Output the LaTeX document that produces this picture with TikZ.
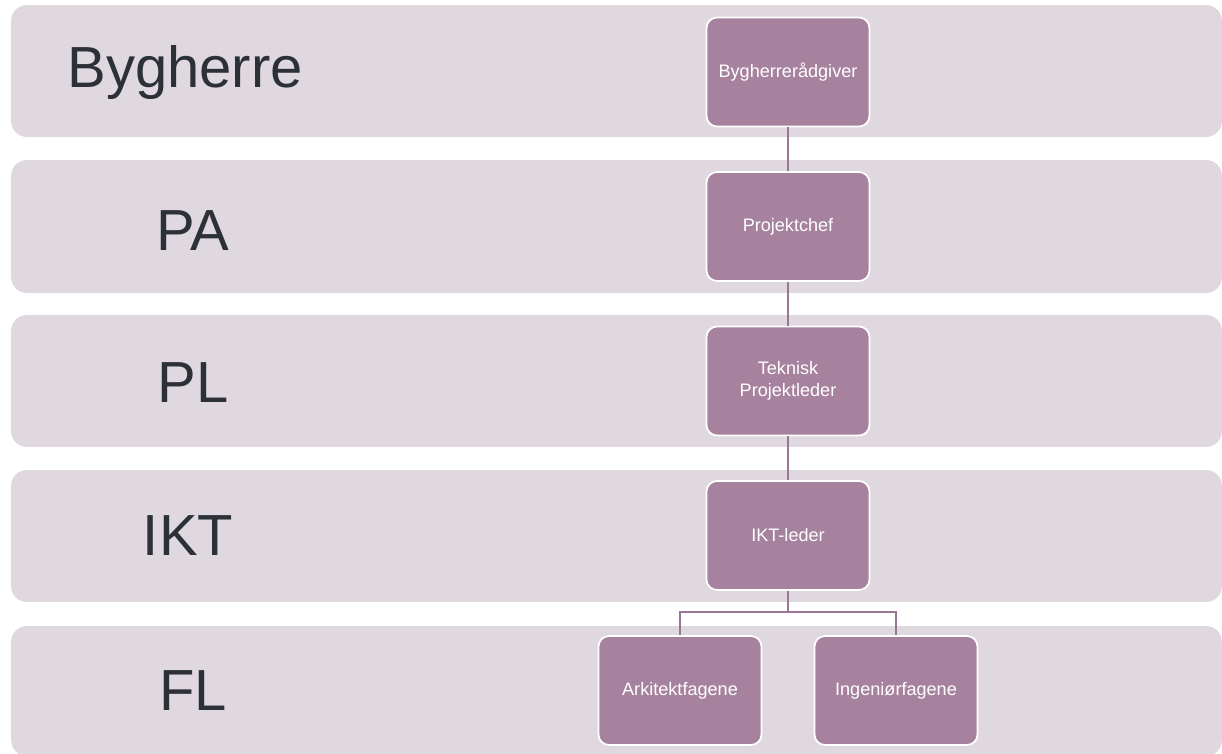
\documentclass[tikz,border=0pt]{standalone}
\usepackage{fontspec}
\setmainfont{Liberation Sans}
\usepackage{xcolor}
\usepackage{tikz}

\definecolor{bandfill}{HTML}{DFD8DF}
\definecolor{boxfill}{HTML}{A6829F}
\definecolor{linkcol}{HTML}{9A7895}
\definecolor{labeltext}{HTML}{2B3137}

\begin{document}
\begin{tikzpicture}[x=0.02cm, y=-0.02cm,
    band/.style={rectangle, rounded corners=9pt, fill=bandfill, minimum width=24.22cm, inner sep=0pt},
    lvl/.style={text=labeltext, font=\fontsize{33}{38}\selectfont},
    role/.style={draw=white, line width=1pt, rectangle, rounded corners=6pt, fill=boxfill, minimum width=3.26cm, minimum height=2.18cm, text=white, align=center, font=\fontsize{10.3}{12.5}\selectfont},
    link/.style={draw=linkcol, line width=1.1pt}]
        \useasboundingbox (0,0) rectangle (1222,753);

        % levels
        \node[band, minimum height=2.64cm] (band1) at (616.5,71) {};
        \node[band, minimum height=2.66cm] (band2) at (616.5,226.5) {};
        \node[band, minimum height=2.64cm] (band3) at (616.5,381) {};
        \node[band, minimum height=2.64cm] (band4) at (616.5,536) {};
        \node[band, minimum height=2.60cm] (band5) at (616.5,691) {};

        \node[lvl] (byg) at (185,73) {Bygherre};
        \node[lvl] (pa) at (193,231) {PA};
        \node[lvl] (pl) at (193,383) {PL};
        \node[lvl] (ikt) at (188,536) {IKT};
        \node[lvl] (fl) at (193,691) {FL};

        % roles
        \node[role] (raadgiver) at (788,72) {Bygherrerådgiver};
        \node[role] (chef) at (788,226.5) {Projektchef};
        \node[role] (tpl) at (788,381) {Teknisk\\Projektleder};
        \node[role] (iktleder) at (788,535.5) {IKT-leder};
        \node[role] (ark) at (680,690.5) {Arkitektfagene};
        \node[role] (ing) at (896,690.5) {Ingeniørfagene};

        \coordinate (fork) at (788,612);

        \draw[link] (raadgiver) -- (chef);
        \draw[link] (chef) -- (tpl);
        \draw[link] (tpl) -- (iktleder);
        \draw[link] (iktleder) -- (fork) -| (ark);
        \draw[link] (fork) -| (ing);
    \end{tikzpicture}
\end{document}
